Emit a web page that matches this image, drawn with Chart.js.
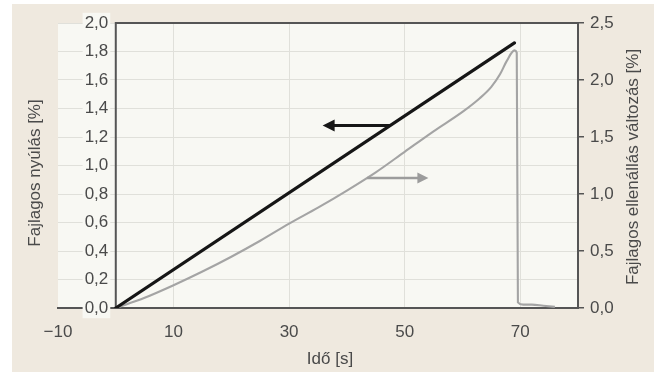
<!DOCTYPE html>
<html lang="hu">
<head>
<meta charset="UTF-8">
<title>Fajlagos nyúlás és ellenállás változás</title>
<style>
  html, body { margin: 0; padding: 0; background: #ffffff; }
  #wrap { width: 654px; height: 372px; }
</style>
</head>
<body>
<div id="wrap"><canvas id="chart" width="654" height="372"></canvas></div>
<script src="https://cdn.jsdelivr.net/npm/chart.js"></script>
<script>
// axis ticks
const xTicks = [-10, 10, 30, 50, 70];
const xTickLabels = ['\u221210', '10', '30', '50', '70'];
const yLeftTicks = [0, 0.2, 0.4, 0.6, 0.8, 1.0, 1.2, 1.4, 1.6, 1.8, 2.0];
const yRightTicks = [0, 0.5, 1.0, 1.5, 2.0, 2.5];

// strain (left axis)
const strainTime = [0, 69];
const strainValues = [0, 1.86];

// resistance change (right axis)
const resTime = [0, 5, 10, 15, 20, 25, 30, 35, 40, 45, 50, 55, 60, 63, 65, 66.5, 67.7, 69.0, 69.4, 69.6, 70.5, 72, 74, 76];
const resValues = [0, 0.09, 0.2, 0.32, 0.45, 0.59, 0.74, 0.88, 1.03, 1.19, 1.37, 1.55, 1.72, 1.84, 1.94, 2.05, 2.17, 2.26, 2.24, 0.05, 0.03, 0.03, 0.02, 0.01];

// annotation arrows: [from x, to x], y level
const strainArrowX = [47.5, 35.8];
const strainArrowY = 1.28;
const resArrowX = [43.5, 54.1];
const resArrowY = 1.14;

const font = "'Liberation Sans', Arial, sans-serif";
const textColor = '#4a4a4a';
const axisColor = '#555555';
const gridColor = '#e0e0da';
const plotBg = '#f8f8f3';
const outerBg = '#efe9df';

const fmt = v => v.toFixed(1).replace('.', ',');

function drawArrow(ctx, x1, y, x2, color, width, headLen, headHalf) {
  const dir = x2 > x1 ? 1 : -1;
  ctx.save();
  ctx.strokeStyle = color;
  ctx.fillStyle = color;
  ctx.lineWidth = width;
  ctx.beginPath();
  ctx.moveTo(x1, y);
  ctx.lineTo(x2 - dir * headLen * 0.8, y);
  ctx.stroke();
  ctx.beginPath();
  ctx.moveTo(x2, y);
  ctx.lineTo(x2 - dir * headLen, y - headHalf);
  ctx.lineTo(x2 - dir * headLen, y + headHalf);
  ctx.closePath();
  ctx.fill();
  ctx.restore();
}

const decor = {
  id: 'decor',
  beforeDraw(chart) {
    const {ctx, chartArea: a} = chart;
    ctx.save();
    ctx.fillStyle = '#ffffff';
    ctx.fillRect(0, 0, chart.width, chart.height);
    ctx.fillStyle = outerBg;
    ctx.fillRect(12, 4, chart.width - 12, chart.height - 4);
    ctx.fillStyle = plotBg;
    ctx.fillRect(a.left, a.top, a.right - a.left, a.bottom - a.top);
    ctx.restore();
  },
  beforeDatasetsDraw(chart) {
    // frame: top line and the time=0 axis line
    const {ctx, chartArea: a, scales} = chart;
    const x0 = scales.x.getPixelForValue(0);
    ctx.save();
    ctx.strokeStyle = axisColor;
    ctx.lineWidth = 2;
    ctx.beginPath();
    ctx.moveTo(a.right, a.top);
    ctx.lineTo(x0, a.top);
    ctx.lineTo(x0, a.bottom);
    ctx.stroke();
    ctx.restore();
  },
  afterDatasetsDraw(chart) {
    const {ctx, scales} = chart;
    drawArrow(ctx, scales.x.getPixelForValue(strainArrowX[0]), scales.y.getPixelForValue(strainArrowY),
      scales.x.getPixelForValue(strainArrowX[1]), '#161616', 3, 12, 6);
    drawArrow(ctx, scales.x.getPixelForValue(resArrowX[0]), scales.y2.getPixelForValue(resArrowY),
      scales.x.getPixelForValue(resArrowX[1]), '#9c9c9c', 2.4, 11, 5.5);
  },
  afterDraw(chart) {
    const {ctx} = chart;
    ctx.save();
    ctx.fillStyle = textColor;
    ctx.font = '17px ' + font;
    ctx.textAlign = 'center';
    ctx.textBaseline = 'middle';
    ctx.fillText('Idő [s]', 330, 359);
    ctx.translate(35, 173);
    ctx.rotate(-Math.PI / 2);
    ctx.fillText('Fajlagos nyúlás [%]', 0, 0);
    ctx.restore();
    ctx.save();
    ctx.fillStyle = textColor;
    ctx.font = '17px ' + font;
    ctx.textAlign = 'center';
    ctx.textBaseline = 'middle';
    ctx.translate(633, 167);
    ctx.rotate(-Math.PI / 2);
    ctx.fillText('Fajlagos ellenállás változás [%]', 0, 0);
    ctx.restore();
  }
};

new Chart(document.getElementById('chart'), {
  type: 'line',
  data: {
    datasets: [
      {
        label: 'Fajlagos nyúlás',
        data: strainTime.map((t, i) => ({x: t, y: strainValues[i]})),
        yAxisID: 'y',
        borderColor: '#161616',
        borderWidth: 3.2,
        borderCapStyle: 'round',
        pointRadius: 0,
        tension: 0
      },
      {
        label: 'Fajlagos ellenállás változás',
        data: resTime.map((t, i) => ({x: t, y: resValues[i]})),
        yAxisID: 'y2',
        borderColor: '#a4a4a4',
        borderWidth: 2.1,
        pointRadius: 0,
        cubicInterpolationMode: 'monotone'
      }
    ]
  },
  options: {
    responsive: false,
    animation: false,
    layout: { padding: { left: 58, top: 23, right: 0, bottom: 0 } },
    plugins: { legend: { display: false }, tooltip: { enabled: false } },
    scales: {
      x: {
        type: 'linear',
        min: -10,
        max: 80,
        afterBuildTicks: s => { s.ticks = xTicks.map(v => ({value: v})); },
        afterFit: s => { s.height = 64; },
        ticks: {
          callback: (v, i) => xTickLabels[i],
          font: { family: font, size: 17 },
          color: textColor,
          padding: 14,
          maxRotation: 0,
          autoSkip: false
        },
        grid: {
          color: c => (c.tick && c.tick.value === -10) ? 'rgba(0,0,0,0)' : gridColor,
          drawTicks: false
        },
        border: { color: axisColor, width: 2 }
      },
      y: {
        type: 'linear',
        // labels sit just left of the time=0 axis line
        position: { x: -1.3 },
        min: 0,
        max: 2,
        afterBuildTicks: s => { s.ticks = yLeftTicks.map(v => ({value: v})); },
        ticks: {
          callback: v => fmt(v),
          font: { family: font, size: 17 },
          color: textColor,
          showLabelBackdrop: true,
          backdropColor: plotBg,
          backdropPadding: { x: 2, y: 0 }
        },
        grid: { color: gridColor, drawTicks: false },
        border: { display: false }
      },
      y2: {
        type: 'linear',
        position: 'right',
        min: 0,
        max: 2.5,
        afterBuildTicks: s => { s.ticks = yRightTicks.map(v => ({value: v})); },
        afterFit: s => { s.width = 76; },
        ticks: {
          callback: v => fmt(v),
          font: { family: font, size: 17 },
          color: textColor,
          padding: 6
        },
        grid: { drawOnChartArea: false, drawTicks: true, tickLength: 6, color: axisColor, lineWidth: 1.5 },
        border: { color: axisColor, width: 2 }
      }
    }
  },
  plugins: [decor]
});
</script>
</body>
</html>
